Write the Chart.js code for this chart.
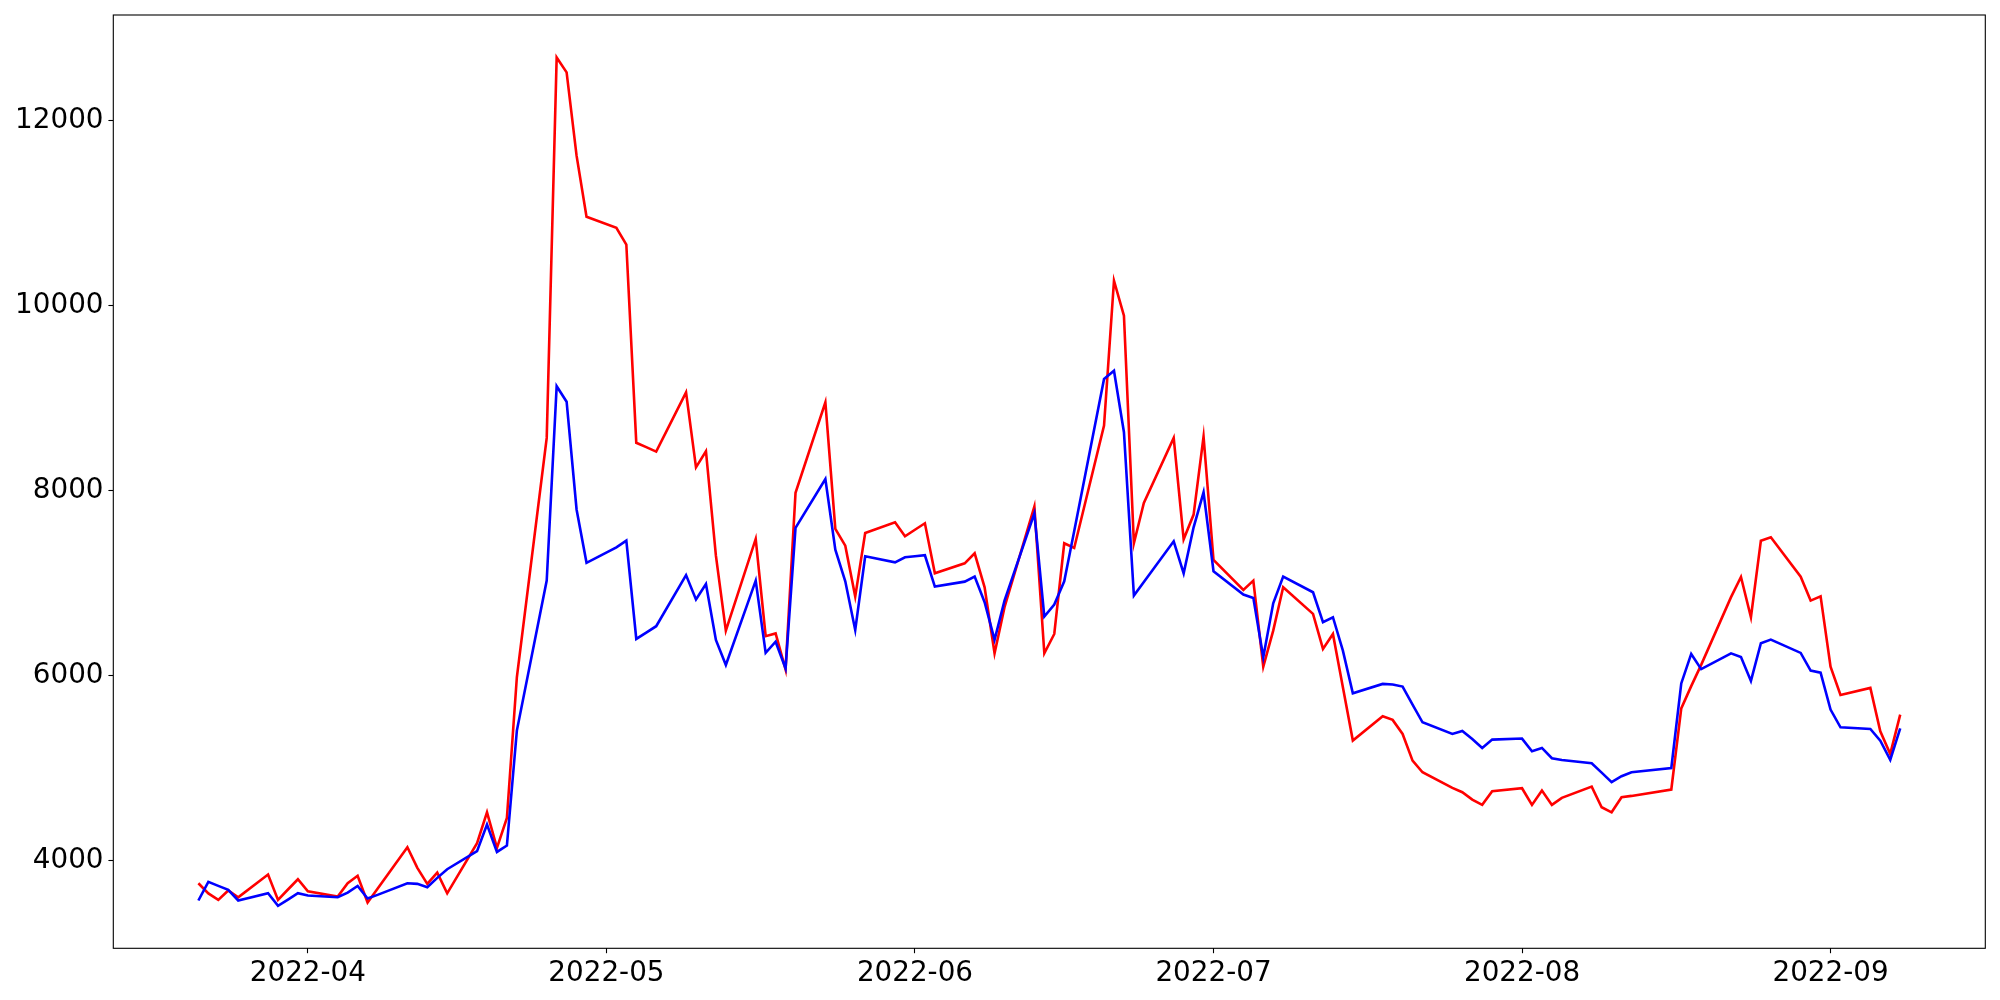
<!DOCTYPE html>
<html>
<head>
<meta charset="utf-8">
<script src="https://cdn.jsdelivr.net/npm/chart.js@4"></script>
<style>
  html, body { margin: 0; padding: 0; background: #fff; }
  #wrap { width: 2000px; height: 1000px; position: relative; }
</style>
</head>
<body>
<div id="wrap"><canvas id="chart"></canvas></div>
<script>
// ── Data ────────────────────────────────────────────────────────────
const dates = [
    "2022-03-21", "2022-03-22", "2022-03-23", "2022-03-24", "2022-03-25",
    "2022-03-28", "2022-03-29", "2022-03-30", "2022-03-31", "2022-04-01",
    "2022-04-04", "2022-04-05", "2022-04-06", "2022-04-07", "2022-04-08",
    "2022-04-11", "2022-04-12", "2022-04-13", "2022-04-14", "2022-04-15",
    "2022-04-18", "2022-04-19", "2022-04-20", "2022-04-21", "2022-04-22",
    "2022-04-25", "2022-04-26", "2022-04-27", "2022-04-28", "2022-04-29",
    "2022-05-02", "2022-05-03", "2022-05-04", "2022-05-05", "2022-05-06",
    "2022-05-09", "2022-05-10", "2022-05-11", "2022-05-12", "2022-05-13",
    "2022-05-16", "2022-05-17", "2022-05-18", "2022-05-19", "2022-05-20",
    "2022-05-23", "2022-05-24", "2022-05-25", "2022-05-26", "2022-05-27",
    "2022-05-30", "2022-05-31", "2022-06-01", "2022-06-02", "2022-06-03",
    "2022-06-06", "2022-06-07", "2022-06-08", "2022-06-09", "2022-06-10",
    "2022-06-13", "2022-06-14", "2022-06-15", "2022-06-16", "2022-06-17",
    "2022-06-20", "2022-06-21", "2022-06-22", "2022-06-23", "2022-06-24",
    "2022-06-27", "2022-06-28", "2022-06-29", "2022-06-30", "2022-07-01",
    "2022-07-04", "2022-07-05", "2022-07-06", "2022-07-07", "2022-07-08",
    "2022-07-11", "2022-07-12", "2022-07-13", "2022-07-14", "2022-07-15",
    "2022-07-18", "2022-07-19", "2022-07-20", "2022-07-21", "2022-07-22",
    "2022-07-25", "2022-07-26", "2022-07-27", "2022-07-28", "2022-07-29",
    "2022-08-01", "2022-08-02", "2022-08-03", "2022-08-04", "2022-08-05",
    "2022-08-08", "2022-08-09", "2022-08-10", "2022-08-11", "2022-08-12",
    "2022-08-16", "2022-08-17", "2022-08-18", "2022-08-19",
    "2022-08-22", "2022-08-23", "2022-08-24", "2022-08-25", "2022-08-26",
    "2022-08-29", "2022-08-30", "2022-08-31", "2022-09-01", "2022-09-02",
    "2022-09-05", "2022-09-06", "2022-09-07", "2022-09-08"
];

const redValues = [
    3755, 3645, 3575, 3676, 3603, 3849, 3575, 3687, 3798, 3668,
    3611, 3755, 3835, 3546, 3695, 4144, 3921, 3748, 3870, 3646,
    4187, 4522, 4137, 4461, 5982, 8570, 12684, 12522, 11622, 10962,
    10841, 10661, 8517, 8470, 8422, 9063, 8252, 8426, 7297, 6486,
    7478, 6426, 6456, 6066, 7976, 8955, 7586, 7405, 6854, 7542,
    7658, 7506, 7577, 7647, 7106, 7214, 7322, 6955, 6241, 6739,
    7827, 6241, 6450, 7431, 7380, 8703, 10270, 9892, 7431, 7867,
    8570, 7474, 7741, 8584, 7250, 6926, 7027, 6097, 6486, 6955,
    6667, 6288, 6450, 5874, 5297, 5560, 5521, 5369, 5081, 4955,
    4786, 4739, 4659, 4602, 4750, 4782, 4602, 4757, 4602, 4678,
    4800, 4577, 4522, 4685, 4699, 4768, 5645, 5886, 6116,
    6848, 7066, 6631, 7459, 7495, 7070, 6811, 6857, 6097, 5791,
    5867, 5398, 5153, 5578
];

const blueValues = [
    3568, 3770, 3726, 3683, 3568, 3647, 3510, 3578, 3647, 3622,
    3603, 3654, 3726, 3589, 3629, 3755, 3748, 3712, 3813, 3906,
    4101, 4389, 4093, 4162, 5405, 7027, 9129, 8961, 7796, 7219,
    7387, 7459, 6396, 6465, 6534, 7087, 6823, 6991, 6385, 6114,
    7027, 6246, 6366, 6078, 7598, 8126, 7362, 7020, 6494, 7290,
    7225, 7279, 7290, 7301, 6962, 7016, 7070, 6793, 6386, 6811,
    7755, 6638, 6768, 7020, 7560, 9207, 9297, 8631, 6865, 7012,
    7452, 7106, 7603, 7982, 7128, 6876, 6840, 6198, 6782, 7070,
    6901, 6577, 6631, 6270, 5809, 5910, 5903, 5881, 5686, 5495,
    5369, 5402, 5315, 5218, 5308, 5319, 5182, 5218, 5106, 5088,
    5052, 4951, 4847, 4912, 4955, 5001, 5915, 6234, 6070,
    6241, 6200, 5942, 6350, 6389, 6245, 6054, 6032, 5632, 5441,
    5423, 5297, 5088, 5430
];

const monthTicks = ["2022-04-01", "2022-05-01", "2022-06-01", "2022-07-01", "2022-08-01", "2022-09-01"];
const monthLabels = ["2022-04", "2022-05", "2022-06", "2022-07", "2022-08", "2022-09"];
const yTicks = [4000, 6000, 8000, 10000, 12000];

// ── Helpers ─────────────────────────────────────────────────────────
// no date adapter available, so x is a plain day number
function dayNum(s) {
    return Date.UTC(+s.slice(0, 4), +s.slice(5, 7) - 1, +s.slice(8, 10)) / 86400000;
}

const xs = dates.map(dayNum);
const tickDays = monthTicks.map(dayNum);

// matplotlib-style 5% margins
const xPad = (xs[xs.length - 1] - xs[0]) * 0.05;
const allVals = redValues.concat(blueValues);
const yLo = Math.min(...allVals), yHi = Math.max(...allVals);
const yPad = (yHi - yLo) * 0.05;

const FONT = { family: "'DejaVu Sans', sans-serif", size: 27.8 };

// frame on all four sides
const framePlugin = {
    id: "frame",
    afterDraw(chart) {
        const { ctx, chartArea: a } = chart;
        ctx.save();
        ctx.strokeStyle = "#000";
        ctx.lineWidth = 1.1;
        ctx.strokeRect(a.left, a.top, a.right - a.left, a.bottom - a.top);
        ctx.restore();
    }
};

// ── Chart ───────────────────────────────────────────────────────────
const ctx = document.getElementById("chart").getContext("2d");
new Chart(ctx, {
    type: "line",
    data: {
        datasets: [
            {
                label: "red",
                data: xs.map((x, i) => ({ x, y: redValues[i] })),
                borderColor: "#ff0000",
                borderWidth: 2.6,
                order: 2,
            },
            {
                label: "blue",
                data: xs.map((x, i) => ({ x, y: blueValues[i] })),
                borderColor: "#0000ff",
                borderWidth: 2.6,
                order: 1,
            }
        ]
    },
    options: {
        responsive: true,
        maintainAspectRatio: false,
        animation: false,
        devicePixelRatio: 1,
        elements: {
            point: { radius: 0 },
            line: { tension: 0, fill: false, borderJoinStyle: "miter", borderCapStyle: "butt" },
        },
        layout: { padding: { top: 15, right: 14.7, left: 0, bottom: 0 } },
        plugins: {
            legend: { display: false },
            tooltip: { enabled: false },
        },
        scales: {
            x: {
                type: "linear",
                min: xs[0] - xPad,
                max: xs[xs.length - 1] + xPad,
                afterBuildTicks: (scale) => {
                    scale.ticks = tickDays.map(v => ({ value: v }));
                },
                afterFit: (scale) => {
                    scale.height = 51.7;
                    scale.paddingLeft = 0;
                    scale.paddingRight = 0;
                },
                ticks: {
                    autoSkip: false,
                    maxRotation: 0,
                    padding: 4,
                    color: "#000",
                    font: FONT,
                    callback: (v) => monthLabels[tickDays.indexOf(v)] ?? "",
                },
                grid: {
                    drawOnChartArea: false,
                    drawTicks: true,
                    tickLength: 4.9,
                    tickColor: "#000",
                    tickWidth: 1.1,
                },
                border: { display: false },
            },
            y: {
                type: "linear",
                min: yLo - yPad,
                max: yHi + yPad,
                afterBuildTicks: (scale) => {
                    scale.ticks = yTicks.map(v => ({ value: v }));
                },
                afterFit: (scale) => {
                    scale.width = 113.3;
                    scale.paddingTop = 0;
                    scale.paddingBottom = 0;
                },
                ticks: {
                    padding: 4.9,
                    color: "#000",
                    font: FONT,
                    callback: (v) => String(v),
                },
                grid: {
                    drawOnChartArea: false,
                    drawTicks: true,
                    tickLength: 4.9,
                    tickColor: "#000",
                    tickWidth: 1.1,
                },
                border: { display: false },
            },
        },
    },
    plugins: [framePlugin],
});
</script>
</body>
</html>
